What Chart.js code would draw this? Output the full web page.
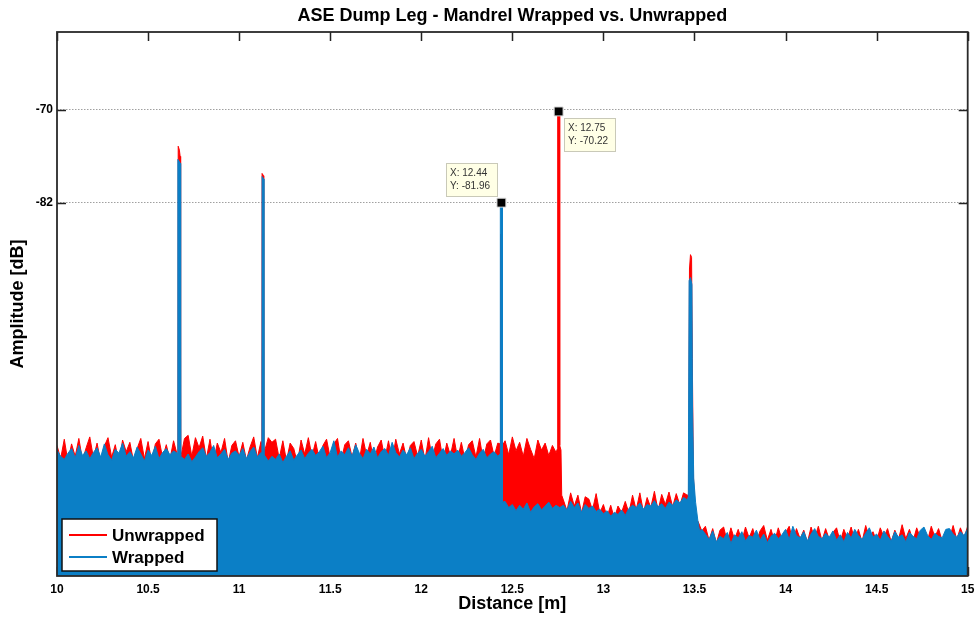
<!DOCTYPE html>
<html><head><meta charset="utf-8">
<script src="https://cdn.jsdelivr.net/npm/chart.js@4"></script>
<style>html,body{margin:0;padding:0;background:#fff}#wrap{width:975px;height:617px;position:relative}</style>
</head><body><div id="wrap"><canvas id="c" width="975" height="617"></canvas></div>
<script>
const chartTitle = 'ASE Dump Leg - Mandrel Wrapped vs. Unwrapped';
const xTitle = 'Distance [m]';
const yTitle = 'Amplitude [dB]';
const seriesNames = ['Unwrapped', 'Wrapped'];
const xTickValues = [10, 10.5, 11, 11.5, 12, 12.5, 13, 13.5, 14, 14.5, 15];
const yTickValues = [-82, -70];
const distanceStart = 10;
const distanceStep = 0.02;

// noise floor samples every 0.02 m from 10.00 to 15.00 (251 values)
const unwrapped = [
-113.2,-114.9,-112.4,-115.3,-113.0,-114.6,-112.3,-115.1,-113.5,-112.1,
-114.8,-112.9,-115.4,-113.3,-112.2,-114.7,-113.1,-115.5,-112.5,-114.0,
-112.8,-115.2,-113.6,-112.3,-114.9,-112.7,-115.3,-113.0,-112.4,-114.8,
-113.1,-115.0,-112.6,-114.4,-114.8,-112.3,-111.9,-114.6,-112.2,-113.5,
-112.0,-114.9,-112.4,-115.3,-112.9,-114.1,-112.3,-115.4,-113.2,-112.6,
-114.7,-112.8,-115.1,-113.4,-112.1,-114.8,-112.7,-113.9,-112.2,-112.8,
-112.4,-114.9,-112.6,-115.2,-112.9,-113.6,-115.5,-112.5,-114.3,-112.2,
-114.6,-112.7,-115.0,-113.2,-112.4,-114.8,-113.0,-112.3,-115.2,-113.1,
-112.6,-114.7,-112.9,-115.1,-112.3,-114.5,-112.8,-115.3,-113.4,-112.5,
-114.9,-112.6,-115.2,-112.4,-114.3,-112.9,-115.0,-113.2,-112.7,-114.6,
-112.5,-115.1,-112.2,-114.8,-113.0,-112.4,-115.2,-112.9,-114.5,-112.3,
-114.9,-112.8,-115.0,-113.1,-112.6,-114.7,-112.3,-115.1,-113.0,-112.5,
-114.6,-112.9,-113.4,
-112.6,-114.4,-112.1,-113.9,-112.8,-114.6,-112.3,-113.7,-114.9,-112.5,-113.8,-112.9,-114.5,-113.2,-114.1,-112.7,
-120.2,-121.6,-119.3,-121.0,-119.6,-121.9,-119.8,-120.1,-121.5,-119.4,
-121.9,-120.8,-122.4,-120.9,-122.6,-121.0,-121.8,-120.4,-121.9,-119.6,
-121.5,-119.3,-121.8,-119.9,-121.2,-119.1,-121.6,-119.5,-120.8,-119.2,
-121.1,-119.4,-120.9,-119.3,
-119.6,-120.0,-121.5,-123.0,-124.2,
-123.6,-125.4,-123.9,-125.8,-124.1,-123.7,-125.6,-123.8,-125.3,-124.0,
-125.5,-123.7,-125.1,-123.9,-125.6,-124.2,-123.5,-125.4,-124.0,-125.6,
-123.8,-125.3,-124.4,-123.6,-125.5,-123.9,-125.2,-124.1,-125.7,-123.7,
-125.1,-123.6,-125.5,-123.9,-125.3,-124.4,-123.8,-125.6,-124.0,-125.2,
-123.7,-125.4,-124.0,-125.6,-123.5,-125.1,-124.3,-125.5,-123.8,-125.0,
-123.9,-125.6,-124.1,-125.3,-123.4,-125.2,-124.0,-125.5,-123.8,-125.1,
-124.2,-125.4,-123.6,-125.0,-123.9,-125.5,-124.3,-125.2,-123.5,-125.3,
-123.8,-125.1,-123.6
];
const wrapped = [
-113.8,-114.6,-115.0,-114.2,-113.6,-114.8,-113.2,-114.5,-113.9,-114.9,
-114.1,-113.5,-114.7,-113.0,-114.4,-115.1,-113.7,-114.2,-112.9,-114.6,
-114.0,-114.8,-113.4,-114.3,-115.2,-113.8,-114.5,-113.3,-114.9,-114.1,
-113.6,-114.4,-113.9,-114.2,-114.6,-115.0,-114.3,-115.3,-114.7,-114.0,
-113.5,-114.6,-114.1,-113.2,-114.8,-114.3,-113.7,-115.0,-114.2,-113.9,
-114.5,-113.6,-114.9,-114.0,-113.4,-114.7,-114.1,-114.5,-115.2,-114.6,
-115.0,-114.3,-115.4,-114.6,-113.9,-115.1,-114.4,-113.8,-114.9,-114.2,
-113.7,-114.5,-114.0,-113.3,-114.8,-114.1,-112.6,-114.7,-113.9,-114.4,
-113.5,-114.6,-113.1,-114.2,-114.9,-113.7,-114.3,-113.4,-114.8,-114.0,
-113.6,-114.5,-112.8,-114.1,-114.7,-113.8,-114.4,-113.5,-114.9,-114.2,
-113.7,-114.6,-114.0,-113.3,-114.8,-114.2,-113.6,-114.5,-113.9,-114.3,
-113.8,-114.6,-114.1,-113.5,-114.4,-115.0,-114.2,-113.7,-114.8,-114.3,
-114.0,-114.6,-114.5,
-120.4,-121.2,-120.8,-121.6,-120.9,-121.4,-120.6,-121.8,-121.1,-120.7,-121.5,-121.0,-120.5,-121.3,-120.9,-121.2,
-120.9,-121.5,-120.4,-121.2,-120.6,-121.8,-120.8,-121.3,-121.0,-121.7,
-121.4,-122.0,-121.6,-122.3,-121.8,-122.1,-121.5,-122.2,-121.3,-120.9,
-121.2,-120.6,-121.4,-120.8,-121.0,-120.3,-121.1,-120.7,-121.3,-120.5,
-120.9,-120.2,-120.6,-119.9,
-120.2,-120.5,-121.0,-122.5,-124.0,
-124.6,-125.3,-124.2,-125.6,-124.9,-125.2,-124.4,-125.8,-124.7,-125.1,
-124.3,-125.5,-124.8,-125.0,-124.1,-125.4,-124.6,-125.7,-124.9,-124.5,
-125.2,-124.7,-124.0,-125.3,-123.6,-124.8,-125.1,-124.3,-125.5,-124.6,
-123.9,-124.9,-125.2,-124.5,-125.0,-124.2,-125.4,-124.7,-125.6,-124.4,
-125.1,-124.0,-124.8,-125.3,-124.5,-123.8,-125.0,-124.6,-125.4,-124.2,
-124.9,-125.5,-124.3,-125.0,-124.7,-125.6,-124.4,-124.9,-125.2,-124.1,
-123.7,-124.8,-125.3,-124.5,-124.9,-125.1,-124.0,-123.9,-124.6,-125.0,
-124.3,-124.8,-123.9
];

// reflection peaks: [distance, amplitude] points
const unwrappedPeaks = [
  [[10.664,-113.0],[10.6655,-74.7],[10.672,-75.2],[10.676,-76.0],[10.6775,-113.5]],
  [[11.125,-113.0],[11.126,-78.2],[11.134,-78.5],[11.135,-113.2]],
  [[12.433,-113.0],[12.435,-86.0],[12.443,-86.5],[12.445,-113.2]],
  [[12.748,-113.6],[12.749,-70.22],[12.759,-70.6],[12.760,-113.2],[12.767,-113.8],[12.771,-119.6]],
  [[13.468,-119.5],[13.4725,-90.5],[13.478,-88.65],[13.484,-89.0],[13.488,-102.0],[13.494,-117.0],[13.502,-121.5],[13.512,-123.5]]
];
const wrappedPeaks = [
  [[10.663,-114.0],[10.664,-76.4],[10.677,-76.9],[10.678,-114.5]],
  [[11.125,-114.2],[11.126,-78.6],[11.135,-78.9],[11.136,-114.6]],
  [[12.433,-114.3],[12.434,-81.96],[12.445,-82.3],[12.446,-120.5]],
  [[13.466,-119.8],[13.4705,-92.0],[13.478,-91.6],[13.486,-92.5],[13.489,-108.0],[13.496,-117.5],[13.506,-120.5],[13.518,-122.8],[13.528,-124.2]]
];

// data tips
const datatipX = [12.44, 12.754];
const datatipY = [-81.96, -70.22];

const FONT = "'Liberation Sans', Arial, Helvetica, sans-serif";
const RED = '#ff0000';
const BLUE = '#0b7fc6';

function buildSeries(values, peaks) {
  const pts = [];
  values.forEach((v, i) => {
    const x = +(distanceStart + i * distanceStep).toFixed(3);
    const inPeak = peaks.some(p => x >= p[0][0] && x <= p[p.length - 1][0]);
    if (!inPeak) pts.push({x: x, y: v});
  });
  peaks.forEach(p => p.forEach(([x, y]) => pts.push({x: x, y: y})));
  pts.sort((a, b) => a.x - b.x);
  return pts;
}

const framePlugin = {
  id: 'frame',
  beforeDatasetsDraw(chart) {
    const {ctx, chartArea: a, scales} = chart;
    ctx.save();
    ctx.strokeStyle = '#222';
    ctx.lineWidth = 1.5;
    ctx.beginPath();
    xTickValues.forEach(v => {
      const px = Math.round(scales.x.getPixelForValue(v)) + 0.5;
      ctx.moveTo(px, a.top); ctx.lineTo(px, a.top + 9);
      ctx.moveTo(px, a.bottom); ctx.lineTo(px, a.bottom - 9);
    });
    yTickValues.forEach(v => {
      const py = Math.round(scales.y.getPixelForValue(v)) + 0.5;
      ctx.moveTo(a.left, py); ctx.lineTo(a.left + 9, py);
      ctx.moveTo(a.right, py); ctx.lineTo(a.right - 9, py);
    });
    ctx.stroke();
    ctx.restore();
  },
  afterDatasetsDraw(chart) {
    const {ctx, chartArea: a} = chart;
    ctx.save();
    ctx.strokeStyle = '#2a2a2a';
    ctx.lineWidth = 1.8;
    ctx.strokeRect(a.left, a.top, a.right - a.left, a.bottom - a.top);
    ctx.restore();
  },
  afterDraw(chart) {
    const {ctx, chartArea: a, scales} = chart;
    ctx.save();
    // title
    ctx.fillStyle = '#000';
    ctx.font = 'bold 18px ' + FONT;
    ctx.textAlign = 'center';
    ctx.textBaseline = 'middle';
    ctx.fillText(chartTitle, (a.left + a.right) / 2, 16);
    // legend
    const lx = 62, ly = 519, lw = 155, lh = 52;
    ctx.fillStyle = '#fff';
    ctx.fillRect(lx, ly, lw, lh);
    ctx.strokeStyle = '#111';
    ctx.lineWidth = 1.5;
    ctx.strokeRect(lx, ly, lw, lh);
    const rows = [[seriesNames[0], RED, 535], [seriesNames[1], BLUE, 557]];
    ctx.font = 'bold 17px ' + FONT;
    ctx.textAlign = 'left';
    rows.forEach(([name, col, y]) => {
      ctx.strokeStyle = col; ctx.lineWidth = 2;
      ctx.beginPath(); ctx.moveTo(69, y); ctx.lineTo(107, y); ctx.stroke();
      ctx.fillStyle = '#000';
      ctx.fillText(name, 112, y + 1);
    });
    // data tips
    ctx.font = '10px ' + FONT;
    datatipX.forEach((xv, i) => {
      const px = scales.x.getPixelForValue(xv);
      const py = scales.y.getPixelForValue(datatipY[i]);
      const w = 51, h = 33;
      let bx, by;
      if (i === 1) { bx = px + 5; by = py + 7; } else { bx = px - w - 4; by = py - h - 7; }
      bx = Math.round(bx); by = Math.round(by);
      ctx.fillStyle = '#ffffe6';
      ctx.fillRect(bx, by, w, h);
      ctx.strokeStyle = '#c9c9b8'; ctx.lineWidth = 1;
      ctx.strokeRect(bx + 0.5, by + 0.5, w, h);
      ctx.fillStyle = '#333';
      ctx.textBaseline = 'middle';
      ctx.fillText('X: ' + xv.toFixed(2), bx + 4, by + 10);
      ctx.fillText('Y: ' + datatipY[i].toFixed(2), bx + 4, by + 23);
    });
    ctx.restore();
  }
};

new Chart(document.getElementById('c'), {
  type: 'line',
  data: {
    datasets: [
      {
        label: seriesNames[0],
        data: buildSeries(unwrapped, unwrappedPeaks),
        borderColor: RED, backgroundColor: RED, borderWidth: 1,
        fill: 'start', pointRadius: 0, tension: 0, order: 2
      },
      {
        label: seriesNames[1],
        data: buildSeries(wrapped, wrappedPeaks),
        borderColor: BLUE, backgroundColor: BLUE, borderWidth: 1,
        fill: 'start', pointRadius: 0, tension: 0, order: 1
      },
      {
        type: 'scatter',
        label: 'datatips',
        data: datatipX.map((x, i) => ({x: x, y: datatipY[i]})),
        pointStyle: 'rect', pointRadius: 6.3, backgroundColor: '#000',
        borderColor: '#d8d8d8', borderWidth: 1, showLine: false, order: 0
      }
    ]
  },
  options: {
    responsive: false,
    animation: false,
    events: [],
    layout: { padding: { top: 32, right: 6, bottom: 0, left: 0 } },
    plugins: {
      legend: { display: false },
      tooltip: { enabled: false },
      title: { display: false }
    },
    scales: {
      x: {
        type: 'linear', min: 10, max: 15,
        afterBuildTicks: s => { s.ticks = xTickValues.map(v => ({value: v})); },
        afterFit: s => { s.height = 41; s.paddingLeft = 0; s.paddingRight = 0; },
        grid: { display: false, drawTicks: false },
        border: { display: false },
        ticks: { padding: 6, color: '#000', maxRotation: 0, autoSkip: false, callback: v => String(v), font: { family: FONT, size: 12, weight: 'bold' } },
        title: { display: true, text: xTitle, color: '#000', font: { family: FONT, size: 18, weight: 'bold' }, padding: { top: 0, bottom: 2 } }
      },
      y: {
        type: 'linear', min: -130, max: -60,
        afterBuildTicks: s => { s.ticks = yTickValues.map(v => ({value: v})); },
        afterFit: s => { s.width = 57; },
        grid: { color: '#a0a0a0', lineWidth: 1, drawTicks: false },
        border: { display: false, dash: [1.5, 1.5] },
        ticks: { padding: 4, color: '#000', callback: v => String(v), font: { family: FONT, size: 12, weight: 'bold' } },
        title: { display: true, text: yTitle, color: '#000', font: { family: FONT, size: 18, weight: 'bold' }, padding: { top: 7, bottom: 0 } }
      }
    }
  },
  plugins: [framePlugin]
});
</script>
</body></html>
